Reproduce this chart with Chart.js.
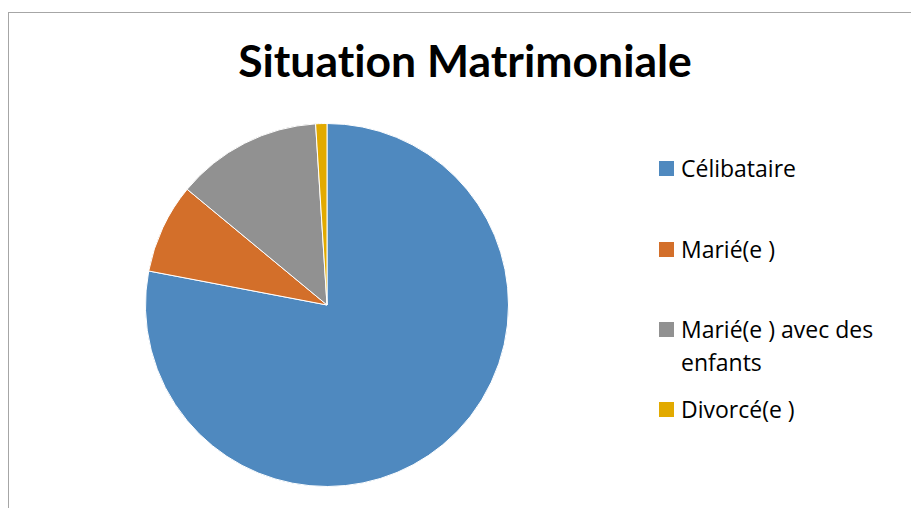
<!DOCTYPE html>
<html>
<head>
<meta charset="utf-8">
<script src="https://cdn.jsdelivr.net/npm/chart.js@4.4.1/dist/chart.umd.min.js"></script>
<style>
  html, body { margin: 0; padding: 0; background: #fff; }
  body { width: 911px; height: 508px; position: relative; overflow: hidden; font-family: Lato, "Open Sans", sans-serif; }
  #frame { position: absolute; left: 8px; top: 12px; width: 920px; height: 520px; border-left: 1px solid #a6a6a6; border-top: 1px solid #a6a6a6; }
  #title { position: absolute; left: 0; width: 930px; top: 32px; text-align: center; font-weight: 700; font-size: 44.5px; line-height: 56px; color: #000; white-space: nowrap; font-variant-ligatures: none; }
  #pie { position: absolute; left: 145px; top: 123px; }
  #legend { position: absolute; left: 659px; top: 0; }
  .item { position: absolute; left: 0; white-space: nowrap; }
  .sw { position: absolute; left: 0; width: 15px; height: 15px; }
  .txt { position: absolute; left: 22px; font-family: "Open Sans", Lato, sans-serif; font-size: 23px; line-height: 33px; color: #000; }
</style>
</head>
<body>
<div id="frame"></div>
<div id="title">Situation Matrimoniale</div>
<canvas id="pie" width="364" height="364"></canvas>
<div id="legend"></div>
<script>
// Marital status breakdown (percent of respondents)
const categories = ["Célibataire", "Marié(e )", "Marié(e ) avec des enfants", "Divorcé(e )"];
const legendLines = [["Célibataire"], ["Marié(e )"], ["Marié(e ) avec des", "enfants"], ["Divorcé(e )"]];
const values = [78, 8, 13, 1];
const colors = ["#4f89bf", "#d36f2a", "#919191", "#e2aa00"];

// Legend entries: swatch centre y for each row
const legendY = [169, 250, 330, 410];
const legend = document.getElementById('legend');
categories.forEach((c, i) => {
  const item = document.createElement('div');
  item.className = 'item';
  item.style.top = (legendY[i] - 8) + 'px';
  const sw = document.createElement('div');
  sw.className = 'sw';
  sw.style.background = colors[i];
  const t = document.createElement('div');
  t.className = 'txt';
  t.style.top = '-9px';
  t.innerHTML = legendLines[i].join('<br>');
  item.appendChild(sw);
  item.appendChild(t);
  legend.appendChild(item);
});

new Chart(document.getElementById('pie'), {
  type: 'pie',
  data: {
    labels: categories,
    datasets: [{
      data: values,
      backgroundColor: colors,
      borderColor: '#ffffff',
      borderWidth: 1
    }]
  },
  options: {
    responsive: false,
    animation: false,
    layout: { padding: 0 },
    plugins: {
      legend: { display: false },
      title: { display: false },
      tooltip: { enabled: false }
    }
  }
});
</script>
</body>
</html>
